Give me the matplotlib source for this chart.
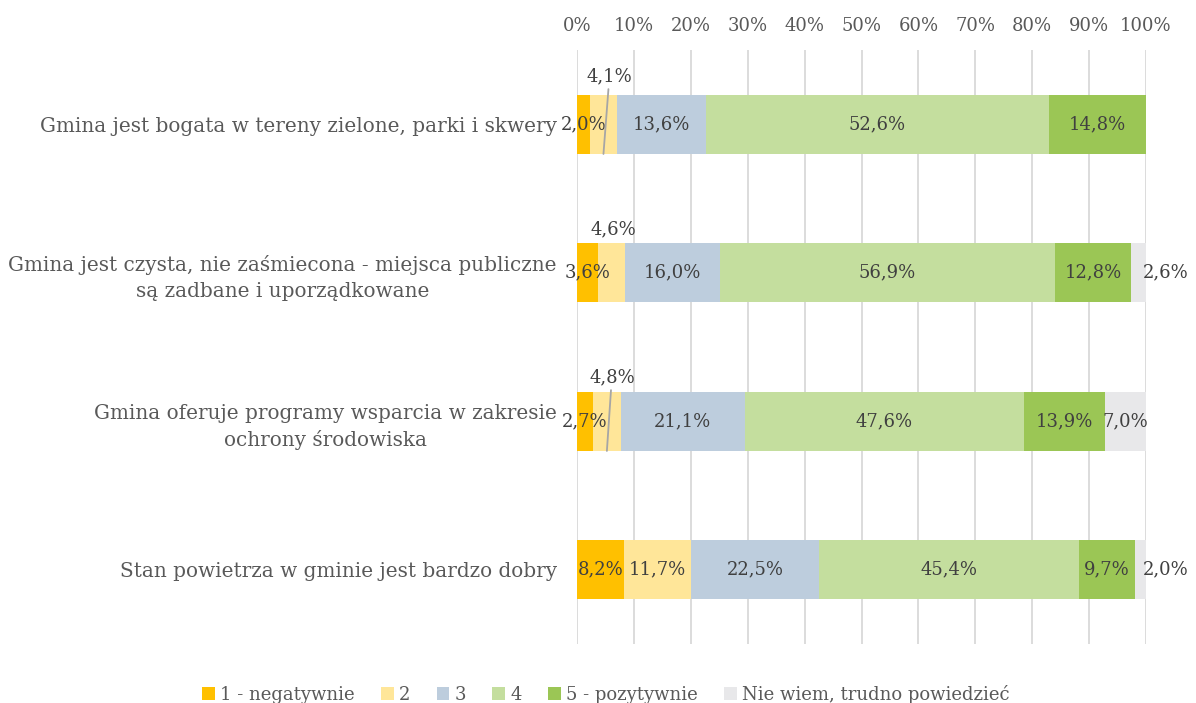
import matplotlib
matplotlib.use("Agg")
import matplotlib.pyplot as plt
import numpy as np

plt.rcParams['font.family'] = ['DejaVu Serif']

categories = [
    "Gmina jest bogata w tereny zielone, parki i skwery",
    "Gmina jest czysta, nie zaśmiecona - miejsca publiczne\nsą zadbane i uporządkowane",
    "Gmina oferuje programy wsparcia w zakresie\nochrony środowiska",
    "Stan powietrza w gminie jest bardzo dobry",
]
series_names = ["1 - negatywnie", "2", "3", "4", "5 - pozytywnie", "Nie wiem, trudno powiedzieć"]
# values per row, in % (0 = no answer given for that option)
row1 = [2.0, 4.1, 13.6, 52.6, 14.8, 0.0]
row2 = [3.6, 4.6, 16.0, 56.9, 12.8, 2.6]
row3 = [2.7, 4.8, 21.1, 47.6, 13.9, 7.0]
row4 = [8.2, 11.7, 22.5, 45.4, 9.7, 2.0]
colors = ["#FFC000", "#FFE699", "#BDCDDD", "#C4DE9E", "#9BC655", "#E8E8EA"]

values = np.array([row1, row2, row3, row4])
# 100% stacked: each row normalised to its own total
shares = values / values.sum(axis=1, keepdims=True) * 100

text_col = "#404040"
fs = 13

fig = plt.figure(figsize=(11.96, 7.03), dpi=100)
ax = fig.add_axes([577/1196, 1-644/703, 569/1196, 594/703])

y = np.arange(len(categories))
left = np.zeros(len(categories))
bars = []
for j, name in enumerate(series_names):
    b = ax.barh(y, shares[:, j], left=left, height=0.4, color=colors[j], label=name, zorder=3)
    bars.append(b)
    left += shares[:, j]

ax.set_xlim(0, 100)
ax.set_ylim(3.5, -0.5)
ax.xaxis.tick_top()
ax.set_xticks(np.arange(0, 101, 10))
ax.set_xticklabels([f"{v}%" for v in range(0, 101, 10)], fontsize=fs, color="#595959")
ax.tick_params(axis='x', length=0, pad=11)
ax.set_yticks(y)
ax.set_yticklabels(categories, fontsize=14.4, color="#595959", linespacing=1.45)
ax.tick_params(axis='y', length=0, pad=14.5)
for lbl in ax.get_yticklabels():
    lbl.set_horizontalalignment('right')
    lbl.set_multialignment('center')
ax.grid(axis='x', color="#D9D9D9", linewidth=1.3, zorder=0)
for s in ax.spines.values():
    s.set_visible(False)

# label placement tweaks (pixel offsets from segment centre)
shift = {(1, 5): (27, 0), (3, 5): (25, 0)}
# labels lifted above the bar; offsets from the bottom of the segment
above = {(0, 1): (6, 78, True), (1, 1): (2, 73, False), (2, 1): (5, 74, True)}

for i in range(len(categories)):
    cum = 0
    for j in range(len(series_names)):
        v = values[i, j]
        w = shares[i, j]
        xc = cum + w / 2
        cum += w
        if v == 0:
            continue
        txt = f"{v:.1f}%".replace(".", ",")
        if (i, j) in above:
            dx, dy, line = above[(i, j)]
            props = dict(arrowstyle='-', color='#A6A6A6', lw=1.3, shrinkA=1, shrinkB=0) if line else None
            ax.annotate(txt, xy=(xc, i + 0.2), xytext=(dx, dy), textcoords='offset pixels',
                        ha='center', va='center', fontsize=fs, color=text_col,
                        arrowprops=props, zorder=5)
        else:
            dx, dy = shift.get((i, j), (0, 0))
            ax.annotate(txt, xy=(xc, i), xytext=(dx, dy), textcoords='offset pixels',
                        ha='center', va='center', fontsize=fs, color=text_col, zorder=5)

fig.legend(handles=bars, labels=series_names, loc='center', bbox_to_anchor=(606/1196, 1-694/703),
           ncol=6, frameon=False, fontsize=fs, labelcolor="#595959",
           handlelength=0.7, handleheight=0.7, handletextpad=0.3, columnspacing=1.45)

fig.savefig("out.png", dpi=100)
